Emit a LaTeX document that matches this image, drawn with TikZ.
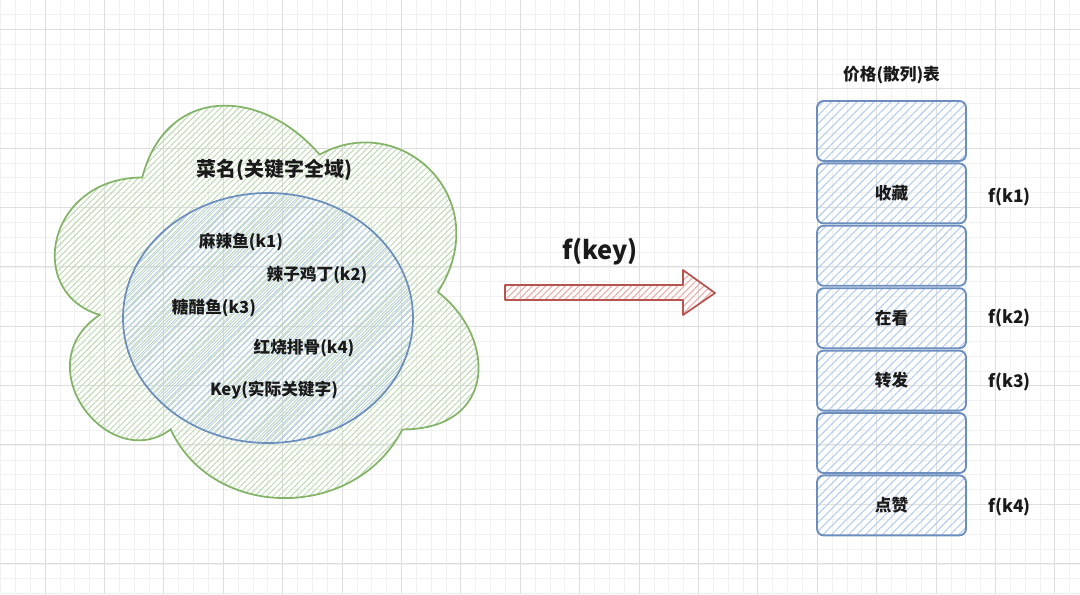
\documentclass[tikz,border=0pt]{standalone}
\usepackage{fontspec}
\setmainfont{Noto Sans CJK SC}
\usepackage{xcolor}
\usetikzlibrary{positioning, patterns.meta, shapes.geometric}

\definecolor{gridminor}{HTML}{F1F1F1}
\definecolor{gridmajor}{HTML}{DEDEDE}
\definecolor{cloudline}{HTML}{82B366}
\definecolor{cloudhatch}{HTML}{BCD9AF}
\definecolor{keyline}{HTML}{6C8EBF}
\definecolor{keyhatch}{HTML}{B4CDEE}
\definecolor{arrowline}{HTML}{B85450}
\definecolor{arrowhatch}{HTML}{EDA9A6}
\definecolor{ink}{HTML}{1A1A1A}

\tikzset{
    x=0.75pt, y=-0.75pt, % one unit is one pixel of the picture
    label/.style={font=\bfseries, text=ink, inner sep=0pt}, % every text
    cloudpart/.style={draw=cloudline, line width=1.3pt, pattern={Lines[angle=45,distance=3.2pt,line width=0.7pt]}, pattern color=cloudhatch},
    keyset/.style={ellipse, draw=keyline, line width=1.3pt, pattern={Lines[angle=45,distance=3.5pt,line width=0.7pt]}, pattern color=keyhatch, inner sep=0pt},
    cell/.style={draw=keyline, line width=1.4pt, rounded corners=5pt, minimum width=111.75pt, minimum height=45pt, inner sep=0pt,
        pattern={Lines[angle=45,distance=4.5pt,line width=0.8pt]}, pattern color=keyhatch},
    fblock/.style={draw=arrowline, line width=1.3pt, line join=round, pattern={Lines[angle=45,distance=3.5pt,line width=0.8pt]}, pattern color=arrowhatch},
}

\begin{document}
\begin{tikzpicture}
    \useasboundingbox (0,0) rectangle (1080,594);

    % grid
    \foreach \i in {0,...,72}
        \draw[gridminor, line width=0.5pt] ({0.45+14.85*\i},0) -- ++(0,594);
    \foreach \i in {0,...,40}
        \draw[gridminor, line width=0.5pt] (0,{14.45+14.85*\i}) -- ++(1080,0);
    \foreach \i in {-1,...,18}
        \draw[gridmajor, line width=0.6pt] ({45+59.4*\i},0) -- ++(0,594);
    \foreach \i in {0,...,10}
        \draw[gridmajor, line width=0.6pt] (0,{29.3+59.33*\i}) -- ++(1080,0);

    % cloud of all dish names
    \begin{scope}[shift={(24,63)}, x={(354.75pt,0)}, y={(0,-343.5pt)}]
        \draw[cloudpart] (0.25,0.25) .. controls (0.05,0.25) and (0,0.5) .. (0.16,0.55)
            .. controls (0,0.66) and (0.18,0.9) .. (0.31,0.8)
            .. controls (0.4,1) and (0.7,1) .. (0.8,0.8)
            .. controls (1,0.8) and (1,0.6) .. (0.875,0.5)
            .. controls (1,0.3) and (0.8,0.1) .. (0.625,0.2)
            .. controls (0.5,0.05) and (0.3,0.05) .. (0.25,0.25) -- cycle;
    \end{scope}
    \node[label, font=\bfseries\fontsize{15}{18}\selectfont] (domain) at (274,170) {菜名(关键字全域)};

    % actual keys
    \node[keyset, minimum width=217.5pt, minimum height=187.5pt] (keys) at (268,318) {};
    \node[label, font=\bfseries\fontsize{12.5}{15}\selectfont] (k1) at (241,242) {麻辣鱼(k1)};
    \node[label, font=\bfseries\fontsize{12.5}{15}\selectfont] (k2) at (317,275) {辣子鸡丁(k2)};
    \node[label, font=\bfseries\fontsize{12.5}{15}\selectfont] (k3) at (214,308) {糖醋鱼(k3)};
    \node[label, font=\bfseries\fontsize{12.5}{15}\selectfont] (k4) at (304,348) {红烧排骨(k4)};
    \node[label, font=\bfseries\fontsize{12.5}{15}\selectfont] (realkey) at (274,390) {Key(实际关键字)};

    % hash function
    \draw[fblock] (505,285) -- (683,285) -- (683,270) -- (715,293) -- (683,315) -- (683,300) -- (505,300) -- cycle;
    \node[label, font=\bfseries\fontsize{19}{23}\selectfont] (hash) at (600,252) {f(key)};

    % price table
    \foreach \i/\t in {1/,2/收藏,3/,4/在看,5/转发,6/,7/点赞}
        \node[cell, label, font=\bfseries\fontsize{12.5}{15}\selectfont] (c\i) at (891.5,{131+62.4*(\i-1)}) {\t};
    \node[label, font=\bfseries\fontsize{12.5}{15}\selectfont, above=12pt of c1] (table) {价格(散列)表};

    \node[label, font=\bfseries\fontsize{13}{16}\selectfont, right=16pt of c2, yshift=-3pt] (f1) {f(k1)};
    \node[label, font=\bfseries\fontsize{13}{16}\selectfont, right=16pt of c4] (f2) {f(k2)};
    \node[label, font=\bfseries\fontsize{13}{16}\selectfont, right=16pt of c5, yshift=-1pt] (f3) {f(k3)};
    \node[label, font=\bfseries\fontsize{13}{16}\selectfont, right=16pt of c7, yshift=-1pt] (f4) {f(k4)};
\end{tikzpicture}
\end{document}
